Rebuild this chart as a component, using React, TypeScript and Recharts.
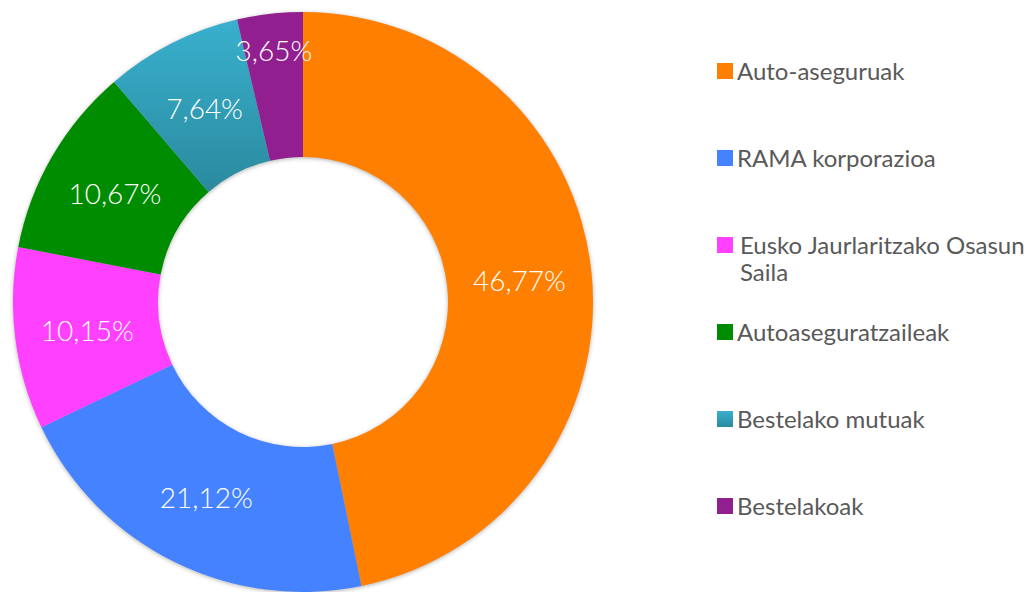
import React from "react";
import { PieChart, Pie, Cell, Legend } from "recharts";

const categories = [
  "Auto-aseguruak",
  "RAMA korporazioa",
  "Eusko Jaurlaritzako Osasun Saila",
  "Autoaseguratzaileak",
  "Bestelako mutuak",
  "Bestelakoak",
];
const shares = [46.77, 21.12, 10.15, 10.67, 7.64, 3.65];
const colors = ["#FF7F00", "#4482FF", "#FF40FF", "#008C00", "url(#tealGrad)", "#911F8F"];
const legendColors = ["#FF7F00", "#4482FF", "#FF40FF", "#008C00", "#33A2BC", "#911F8F"];

const data = categories.map((name, i) => ({ name, value: shares[i] }));

const RAD = Math.PI / 180;

const renderLabel = (props: any) => {
  const { cx, cy, midAngle, innerRadius, outerRadius, value, percent } = props;
  const frac = percent < 0.05 ? 0.75 : 0.5;
  const r = innerRadius + (outerRadius - innerRadius) * frac;
  const x = cx + r * Math.cos(-midAngle * RAD);
  const y = cy + r * Math.sin(-midAngle * RAD);
  return (
    <text
      x={x}
      y={y}
      fill="#ffffff"
      textAnchor="middle"
      dominantBaseline="central"
      fontFamily="Lato"
      fontWeight={300}
      fontSize={28}
    >
      {value.toFixed(2).replace(".", ",") + "%"}
    </text>
  );
};

const renderLegend = () => (
  <div style={{ position: "relative", width: 300, height: 592 }}>
    {categories.map((name, i) => (
      <div
        key={name}
        style={{
          position: "absolute",
          left: 0,
          top: 70 + i * 87 - 13.5,
          display: "flex",
          alignItems: "flex-start",
        }}
      >
        <span
          style={{
            display: "inline-block",
            width: 16,
            height: 16,
            marginTop: 6,
            background: legendColors[i],
            backgroundImage:
              i === 4 ? "linear-gradient(#39B0CE, #2A8A9E)" : undefined,
            flexShrink: 0,
          }}
        />
        <span
          style={{
            marginLeft: i === 2 ? 7 : 4,
            width: 292,
            fontFamily: "Lato",
            fontSize: 24,
            lineHeight: "27px",
            color: "#595959",
            textAlign: "left",
          }}
        >
          {name}
        </span>
      </div>
    ))}
  </div>
);

export default function App() {
  return (
    <div style={{ position: "absolute", left: 0, top: 0 }}>
      <style>{`.recharts-pie { filter: drop-shadow(0px 1px 2px rgba(0,0,0,0.3)); }`}</style>
      <PieChart width={1026} height={592} margin={{ top: 0, right: 0, bottom: 0, left: 0 }}>
        <defs>
          <linearGradient id="tealGrad" x1="0" y1="0" x2="0" y2="1">
            <stop offset="0%" stopColor="#39B0CE" />
            <stop offset="100%" stopColor="#2A8A9E" />
          </linearGradient>
        </defs>
        <Pie
          data={data}
          dataKey="value"
          nameKey="name"
          cx={303}
          cy={302}
          outerRadius={290}
          innerRadius={145}
          startAngle={90}
          endAngle={-270}
          stroke="none"
          label={renderLabel}
          labelLine={false}
          isAnimationActive={false}
        >
          {data.map((d, i) => (
            <Cell key={d.name} fill={colors[i]} />
          ))}
        </Pie>
        <Legend
          content={renderLegend}
          wrapperStyle={{ position: "absolute", left: 717, top: 0, width: 305, height: 592 }}
        />
      </PieChart>
    </div>
  );
}
